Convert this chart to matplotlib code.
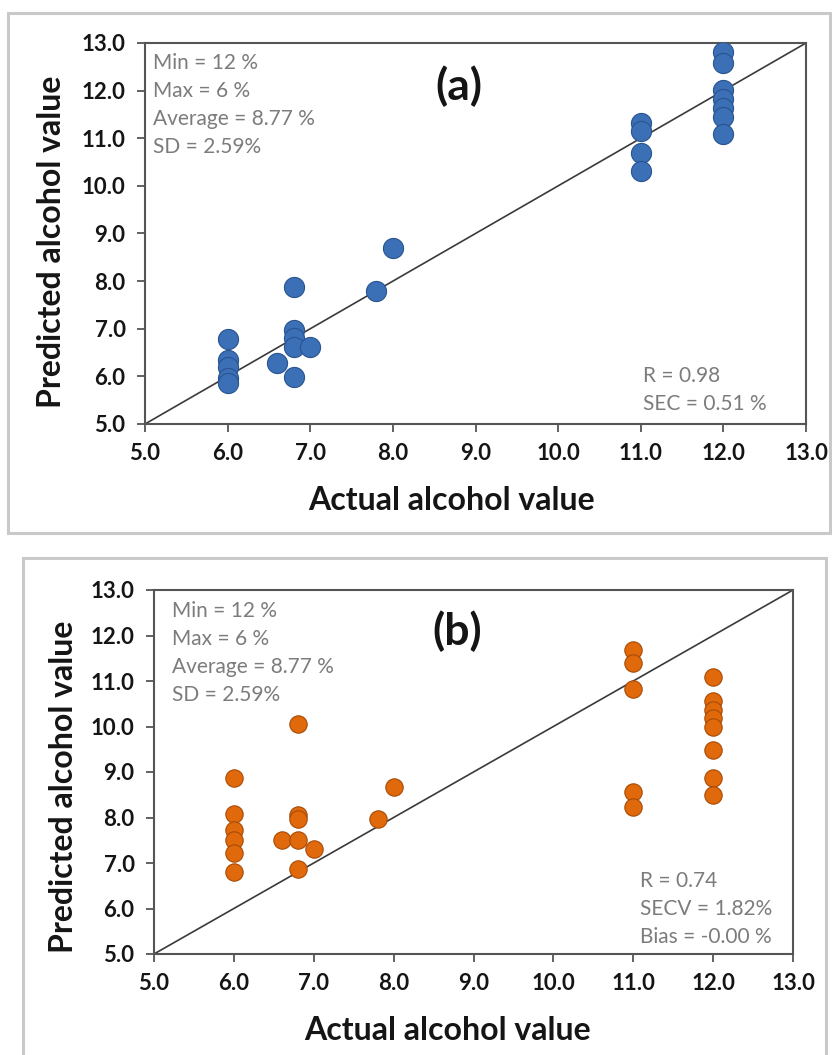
import numpy as np
import matplotlib
matplotlib.use("Agg")
import matplotlib.pyplot as plt
from matplotlib.patches import Rectangle
from matplotlib.ticker import FormatStrFormatter

# --- data (alcohol %) ---
cal_actual = [6.0, 6.0, 6.0, 6.0, 6.0, 6.6, 6.8, 6.8, 6.8, 6.8, 6.8, 7.0, 7.8, 8.0,
              11.0, 11.0, 11.0, 11.0, 12.0, 12.0, 12.0, 12.0, 12.0, 12.0, 12.0]
cal_pred = [6.78, 6.34, 6.19, 5.96, 5.86, 6.29, 7.88, 6.97, 6.80, 6.62, 5.98, 6.62, 7.80, 8.70,
            11.33, 11.16, 10.69, 10.31, 12.82, 12.58, 12.02, 11.82, 11.63, 11.44, 11.08]

cv_actual = [6.0, 6.0, 6.0, 6.0, 6.0, 6.0, 6.6, 6.8, 6.8, 6.8, 6.8, 6.8, 7.0, 7.8, 8.0,
             11.0, 11.0, 11.0, 11.0, 11.0, 12.0, 12.0, 12.0, 12.0, 12.0, 12.0, 12.0, 12.0]
cv_pred = [8.86, 8.07, 7.73, 7.51, 7.23, 6.81, 7.50, 10.05, 8.06, 7.96, 7.50, 6.87, 7.31, 7.96, 8.67,
           11.68, 11.40, 10.82, 8.57, 8.22, 11.09, 10.55, 10.36, 10.18, 10.00, 9.48, 8.86, 8.49]

cal_stats = "Min = 12 %\nMax = 6 %\nAverage = 8.77 %\nSD = 2.59%"
cal_fit = "R = 0.98\nSEC = 0.51 %"
cv_stats = "Min = 12 %\nMax = 6 %\nAverage = 8.77 %\nSD = 2.59%"
cv_fit = "R = 0.74\nSECV = 1.82%\nBias = -0.00 %"

ticks = [5, 6, 7, 8, 9, 10, 11, 12, 13]

plt.rcParams['font.family'] = ['Lato', 'DejaVu Sans']

W, H = 832, 1055
fig = plt.figure(figsize=(W / 100, H / 100), dpi=100)


def px_axes(l, t, r, b):
    return fig.add_axes([l / W, 1 - b / H, (r - l) / W, (b - t) / H])


def frame(l, t, r, b):
    fig.patches.append(Rectangle((l / W, 1 - b / H), (r - l) / W, (b - t) / H,
                                 transform=fig.transFigure, fill=False,
                                 edgecolor='#c9c9c9', lw=2.2, zorder=0))


def panel(ax, x, y, color, edge, ms, tag, stats, stats_xy, fit, fit_xy, xlab_xy, ylab_xy):
    ax.plot([5, 13], [5, 13], color='#3a3a3a', lw=1.2, zorder=2)
    ax.scatter(x, y, s=ms ** 2, color=color, edgecolors=edge, linewidths=0.8, zorder=3)
    ax.set_xlim(5, 13)
    ax.set_ylim(5, 13)
    ax.set_xticks(ticks)
    ax.set_yticks(ticks)
    ax.xaxis.set_major_formatter(FormatStrFormatter('%.1f'))
    ax.yaxis.set_major_formatter(FormatStrFormatter('%.1f'))
    ax.tick_params(direction='out', length=6, width=1.3, color='#555555',
                   labelsize=16)
    ax.tick_params(axis='x', pad=8)
    ax.tick_params(axis='y', pad=8)
    for lab in ax.get_xticklabels() + ax.get_yticklabels():
        lab.set_fontweight('bold')
        lab.set_color('#151515')
    for sp in ax.spines.values():
        sp.set_color('#555555')
        sp.set_linewidth(1.5)
    ax.set_xlabel("Actual alcohol value", fontsize=23, fontweight='bold',
                  color='#151515')
    ax.set_ylabel("Predicted alcohol value", fontsize=23, fontweight='bold',
                  color='#151515')
    ax.xaxis.set_label_coords(*xlab_xy)
    ax.yaxis.set_label_coords(*ylab_xy)
    ax.text(8.8, 12.1, tag, fontsize=32, fontweight='bold', color='#151515',
            ha='center', va='center')
    ax.text(stats_xy[0], stats_xy[1], stats, transform=ax.transAxes, fontsize=15,
            color='#7c7c7c', va='top', ha='left', linespacing=1.5)
    ax.text(fit_xy[0], fit_xy[1], fit, transform=ax.transAxes, fontsize=15,
            color='#7c7c7c', va='bottom', ha='left', linespacing=1.5)


frame(8, 13, 830, 533)
frame(23, 558, 826, 1062)

ax1 = px_axes(145, 43, 806, 424)
panel(ax1, cal_actual, cal_pred, '#3b6fb6', '#2a5490', 14.5, "(a)",
      cal_stats, (0.012, 0.975), cal_fit, (0.753, 0.025),
      (0.463, -0.163), (-0.12, 0.478))

ax2 = px_axes(154, 590, 793, 954)
panel(ax2, cv_actual, cv_pred, '#e0690c', '#a84a05', 12.5, "(b)",
      cv_stats, (0.028, 0.97), cv_fit, (0.76, 0.02),
      (0.46, -0.17), (-0.119, 0.459))

fig.savefig("out.png", dpi=100)
